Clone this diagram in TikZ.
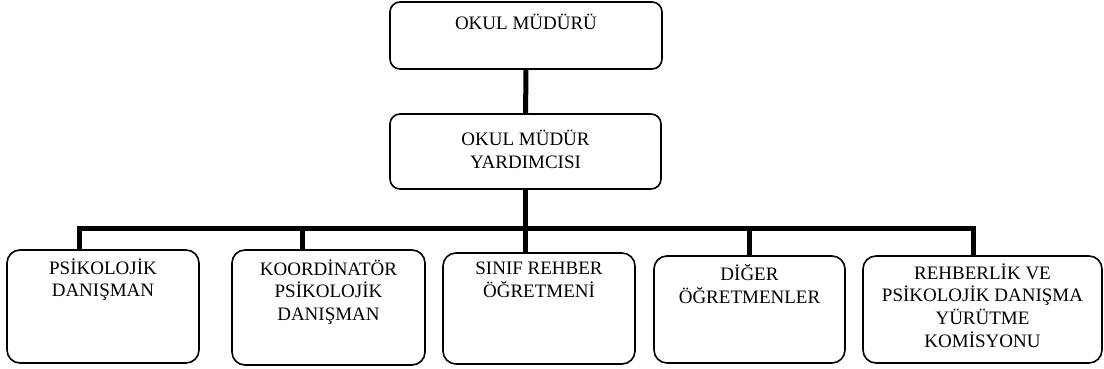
\documentclass[tikz,border=0pt]{standalone}
\usepackage{fontspec}
\setmainfont{Liberation Serif}
\usetikzlibrary{positioning}

\begin{document}
\begin{tikzpicture}[x=1pt,y=1pt,
    box/.style={draw,line width=1.6pt,rounded corners=13pt,inner sep=0pt},
    lbl/.style={align=center,inner sep=0pt,font=\fontsize{19}{22.7}\selectfont,
                execute at begin node={\rule{0pt}{18pt}}},
    conn/.style={line width=5pt}]
   \useasboundingbox (0,0) rectangle (1104,368);
   % boxes
   \node[box,rounded corners=10pt,minimum width=272pt,minimum height=67pt] (mudur) at (526,332.5) {};
   \node[box,rounded corners=10pt,minimum width=271pt,minimum height=75pt] (yard) at (525.5,216.5) {};
   \node[box,minimum width=192pt,minimum height=113pt] (psik) at (103,61.5) {};
   \node[box,minimum width=193pt,minimum height=115pt] (koord) at (328.5,60.5) {};
   \node[box,minimum width=192pt,minimum height=111pt] (sinif) at (539,59.5) {};
   \node[box,minimum width=191pt,minimum height=107pt] (diger) at (749.5,58.5) {};
   \node[box,minimum width=239pt,minimum height=107pt] (rehb) at (982.5,58.5) {};
   % texts
   \node[lbl,below=10pt of mudur.north] (mudur-t) {OKUL MÜDÜRÜ};
   \node[lbl,below=17pt of yard.north] (yard-t) {OKUL MÜDÜR\\YARDIMCISI};
   \node[lbl,below=9pt of psik.north] (psik-t) {PSİKOLOJİK\\DANIŞMAN};
   \node[lbl,below=10pt of koord.north] (koord-t) {KOORDİNATÖR\\PSİKOLOJİK\\DANIŞMAN};
   \node[lbl,below=10pt of sinif.north] (sinif-t) {SINIF REHBER\\ÖĞRETMENİ};
   \node[lbl,below=9pt of diger.north] (diger-t) {DİĞER\\ÖĞRETMENLER};
   \node[lbl,below=8pt of rehb.north] (rehb-t) {REHBERLİK VE\\PSİKOLOJİK DANIŞMA\\YÜRÜTME\\KOMİSYONU};
   % connectors
   \coordinate (j1) at (79,140);
   \coordinate (j2) at (302,140);
   \coordinate (j4) at (749,140);
   \coordinate (j5) at (973,140);
   \draw[conn] (mudur) -- (yard);
   \draw[conn] (yard.south) -- (yard.south |- sinif.north);
   \draw[conn] (j1 |- psik.north) -- (j1) -- (j5) -- (j5 |- rehb.north);
   \draw[conn] (j2) -- (j2 |- koord.north);
   \draw[conn] (j4) -- (j4 |- diger.north);
\end{tikzpicture}
\end{document}
